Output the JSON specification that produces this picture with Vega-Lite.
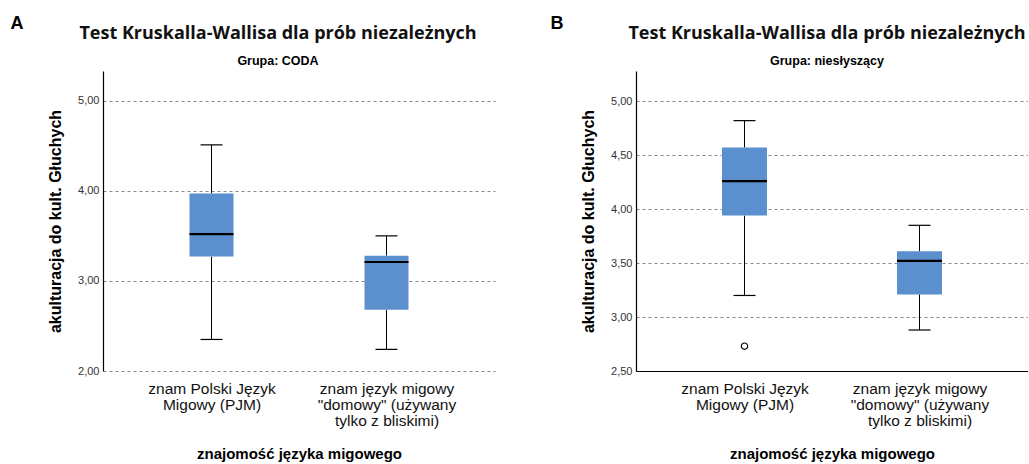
{
  "$schema": "https://vega.github.io/schema/vega-lite/v6.json",
  "background": "white",
  "padding": {"left": 10, "top": 14, "right": 0, "bottom": 0},
  "spacing": 55,
  "config": {
    "view": {"stroke": null},
    "font": "Liberation Sans",
    "axis": {"labelFont": "Liberation Sans", "titleFont": "Liberation Sans"},
    "title": {"font": "Open Sans", "fontWeight": "bold", "color": "#111111"}
  },
  "datasets": {
    "a": [
      {"kategoria": "PJM", "lower": 2.35, "q1": 3.27, "median": 3.52, "q3": 3.97, "upper": 4.51},
      {"kategoria": "domowy", "lower": 2.24, "q1": 2.68, "median": 3.21, "q3": 3.28, "upper": 3.50}
    ],
    "b": [
      {"kategoria": "PJM", "lower": 3.20, "q1": 3.94, "median": 4.26, "q3": 4.57, "upper": 4.82},
      {"kategoria": "domowy", "lower": 2.88, "q1": 3.21, "median": 3.52, "q3": 3.61, "upper": 3.85}
    ],
    "b_out": [
      {"kategoria": "PJM", "wartosc": 2.73}
    ]
  },
  "hconcat": [
    {
      "title": {"text": "A", "anchor": "start", "font": "Liberation Sans", "fontSize": 18, "fontWeight": "bold", "color": "#000000", "dx": -37, "offset": -8},
      "vconcat": [
        {
          "width": 392,
          "height": 300,
          "title": {"text": "Test Kruskalla-Wallisa dla prób niezależnych", "subtitle": "Grupa: CODA", "fontSize": 18, "subtitleFont": "Liberation Sans", "subtitleFontWeight": "bold", "subtitleFontSize": 12.5, "subtitleColor": "#000000", "subtitlePadding": 12, "offset": 4, "anchor": "middle", "frame": "group", "dx": -21},
          "data": {"name": "a"},
          "encoding": {
            "x": {
              "field": "kategoria", "type": "nominal", "sort": ["PJM", "domowy"],
              "scale": {"type": "point", "padding": 0.62},
              "axis": {
                "title": "znajomość języka migowego", "titleFontSize": 15, "titleFontWeight": "bold", "titleColor": "#000000", "titlePadding": 18,
                "labelAngle": 0, "labelFontSize": 15.5, "labelColor": "#111111", "labelLineHeight": 16, "labelPadding": 10, "ticks": false, "domain": false, "grid": false,
                "labelExpr": "datum.value == 'PJM' ? ['znam Polski Język', 'Migowy (PJM)'] : ['znam język migowy', '\"domowy\" (używany', 'tylko z bliskimi)']"
              }
            }
          },
          "layer": [
            {
              "mark": {"type": "rule", "color": "#000000", "strokeWidth": 1},
              "encoding": {
                "y": {
                  "field": "lower", "type": "quantitative",
                  "scale": {"domain": [2, 5.33], "nice": false, "zero": false},
                  "axis": {
                    "title": "akulturacja do kult. Głuchych", "titleFontSize": 16, "titleFontWeight": "bold", "titleColor": "#000000", "titlePadding": 14,
                    "values": [2, 3, 4, 5], "labelExpr": "replace(format(datum.value, '.2f'), '.', ',')",
                    "labelFontSize": 11, "labelColor": "#333333", "labelPadding": 4, "ticks": false,
                    "domain": true, "domainColor": "#000000", "domainWidth": 1.2,
                    "grid": true, "gridColor": "#888888", "gridDash": [3, 3], "gridWidth": 1
                  }
                },
                "y2": {"field": "q1"}
              }
            },
            {
              "mark": {"type": "rule", "color": "#000000", "strokeWidth": 1},
              "encoding": {"y": {"field": "q3", "type": "quantitative"}, "y2": {"field": "upper"}}
            },
            {
              "mark": {"type": "bar", "color": "#5b8fcd", "size": 44},
              "encoding": {"y": {"field": "q1", "type": "quantitative"}, "y2": {"field": "q3"}}
            },
            {
              "mark": {"type": "tick", "color": "#000000", "size": 44, "thickness": 2.2, "opacity": 1},
              "encoding": {"y": {"field": "median", "type": "quantitative"}}
            },
            {
              "mark": {"type": "tick", "color": "#000000", "size": 22, "thickness": 1.2, "opacity": 1},
              "encoding": {"y": {"field": "lower", "type": "quantitative"}}
            },
            {
              "mark": {"type": "tick", "color": "#000000", "size": 22, "thickness": 1.2, "opacity": 1},
              "encoding": {"y": {"field": "upper", "type": "quantitative"}}
            }
          ]
        }
      ]
    },
    {
      "title": {"text": "B", "anchor": "start", "font": "Liberation Sans", "fontSize": 18, "fontWeight": "bold", "color": "#000000", "dx": -30, "offset": -8},
      "vconcat": [
        {
          "width": 392,
          "height": 300,
          "title": {"text": "Test Kruskalla-Wallisa dla prób niezależnych", "subtitle": "Grupa: niesłyszący", "fontSize": 18, "subtitleFont": "Liberation Sans", "subtitleFontWeight": "bold", "subtitleFontSize": 12.5, "subtitleColor": "#000000", "subtitlePadding": 12, "offset": 4, "anchor": "middle", "frame": "group", "dx": -5},
          "encoding": {
            "x": {
              "field": "kategoria", "type": "nominal", "sort": ["PJM", "domowy"],
              "scale": {"type": "point", "padding": 0.62},
              "axis": {
                "title": "znajomość języka migowego", "titleFontSize": 15, "titleFontWeight": "bold", "titleColor": "#000000", "titlePadding": 18,
                "labelAngle": 0, "labelFontSize": 15.5, "labelColor": "#111111", "labelLineHeight": 16, "labelPadding": 10, "ticks": false,
                "domain": true, "domainColor": "#000000", "domainWidth": 1.2, "grid": false,
                "labelExpr": "datum.value == 'PJM' ? ['znam Polski Język', 'Migowy (PJM)'] : ['znam język migowy', '\"domowy\" (używany', 'tylko z bliskimi)']"
              }
            }
          },
          "layer": [
            {
              "data": {"name": "b"},
              "mark": {"type": "rule", "color": "#000000", "strokeWidth": 1},
              "encoding": {
                "y": {
                  "field": "lower", "type": "quantitative",
                  "scale": {"domain": [2.5, 5.28], "nice": false, "zero": false},
                  "axis": {
                    "title": "akulturacja do kult. Głuchych", "titleFontSize": 16, "titleFontWeight": "bold", "titleColor": "#000000", "titlePadding": 14,
                    "values": [2.5, 3, 3.5, 4, 4.5, 5], "labelExpr": "replace(format(datum.value, '.2f'), '.', ',')",
                    "labelFontSize": 11, "labelColor": "#333333", "labelPadding": 4, "ticks": false,
                    "domain": true, "domainColor": "#000000", "domainWidth": 1.2,
                    "grid": true, "gridColor": "#888888", "gridDash": [3, 3], "gridWidth": 1
                  }
                },
                "y2": {"field": "q1"}
              }
            },
            {
              "data": {"name": "b"},
              "mark": {"type": "rule", "color": "#000000", "strokeWidth": 1},
              "encoding": {"y": {"field": "q3", "type": "quantitative"}, "y2": {"field": "upper"}}
            },
            {
              "data": {"name": "b"},
              "mark": {"type": "bar", "color": "#5b8fcd", "size": 45},
              "encoding": {"y": {"field": "q1", "type": "quantitative"}, "y2": {"field": "q3"}}
            },
            {
              "data": {"name": "b"},
              "mark": {"type": "tick", "color": "#000000", "size": 45, "thickness": 2.2, "opacity": 1},
              "encoding": {"y": {"field": "median", "type": "quantitative"}}
            },
            {
              "data": {"name": "b"},
              "mark": {"type": "tick", "color": "#000000", "size": 22, "thickness": 1.2, "opacity": 1},
              "encoding": {"y": {"field": "lower", "type": "quantitative"}}
            },
            {
              "data": {"name": "b"},
              "mark": {"type": "tick", "color": "#000000", "size": 22, "thickness": 1.2, "opacity": 1},
              "encoding": {"y": {"field": "upper", "type": "quantitative"}}
            },
            {
              "data": {"name": "b_out"},
              "mark": {"type": "point", "shape": "circle", "filled": false, "color": "#000000", "strokeWidth": 1.2, "size": 40, "opacity": 1},
              "encoding": {"y": {"field": "wartosc", "type": "quantitative"}}
            }
          ]
        }
      ]
    }
  ]
}
